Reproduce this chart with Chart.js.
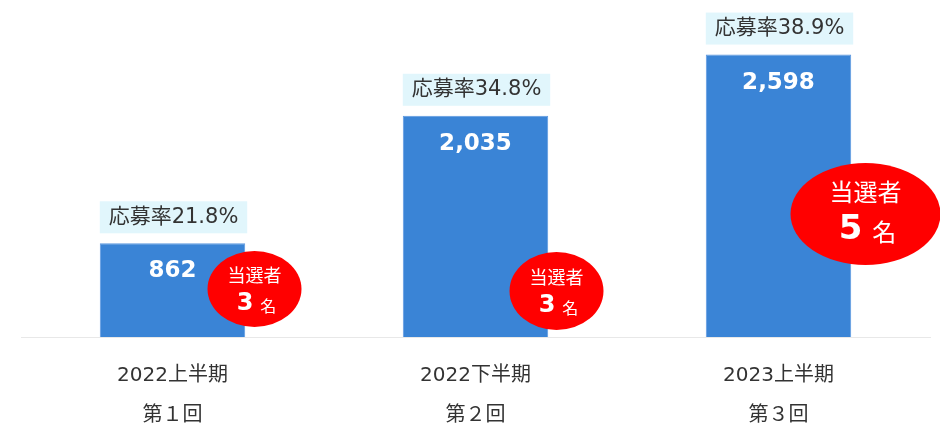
<!DOCTYPE html>
<html>
<head>
	<meta charset="utf-8">
	<script src="https://cdn.jsdelivr.net/npm/chart.js@4/dist/chart.umd.min.js"></script>
	<style>
	html, body { margin: 0; padding: 0; background: #fff; }
	#holder { width: 940px; height: 441px; }
	</style>
</head>
<body>
	<div id="holder"><canvas id="chart-area"></canvas></div>
	<script>

	var periods = [['2022上半期', '第１回'], ['2022下半期', '第２回'], ['2023上半期', '第３回']];
	var applicants = [862, 2035, 2598];
	var rates = [21.8, 34.8, 38.9];
	var winners = [3, 3, 5];

	var JP = '"DejaVu Sans", "Noto Sans CJK JP", sans-serif';

	// ellipse for each bar: offset from bar centre, centre y, radii, font sizes
	var bubbles = [
		{ dx: 82, cy: 289, rx: 47, ry: 38, title: 18, num: 24, unit: 16, ty: -14, ny: 15, gap: 7 },
		{ dx: 81, cy: 291, rx: 47, ry: 39, title: 18, num: 24, unit: 16, ty: -14, ny: 15, gap: 7 },
		{ dx: 87, cy: 214, rx: 75, ry: 51, title: 24, num: 34, unit: 24, ty: -22, ny: 16, gap: 10 }
	];

	var labelsPlugin = {
		id: 'labels',
		afterDatasetsDraw: function(chart) {
			var ctx = chart.ctx;
			var meta = chart.getDatasetMeta(0);
			meta.data.forEach(function(bar, i) {
				var left = bar.x - bar.width / 2;
				ctx.save();
				ctx.textAlign = 'center';
				ctx.textBaseline = 'middle';
				// rate box
				ctx.fillStyle = '#E1F6FC';
				ctx.fillRect(left, bar.y - 42, bar.width + 2, 32);
				ctx.fillStyle = '#333';
				ctx.font = '21px ' + JP;
				ctx.fillText('応募率' + rates[i].toFixed(1) + '%', left + (bar.width + 2) / 2, bar.y - 26);
				// value
				ctx.fillStyle = '#fff';
				ctx.font = 'bold 23px "DejaVu Sans", sans-serif';
				ctx.fillText(applicants[i].toLocaleString('en-US'), bar.x, bar.y + 28);
				// winners ellipse
				var b = bubbles[i];
				var cx = bar.x + b.dx;
				ctx.fillStyle = '#FF0000';
				ctx.beginPath();
				ctx.ellipse(cx, b.cy, b.rx, b.ry, 0, 0, Math.PI * 2);
				ctx.fill();
				ctx.fillStyle = '#fff';
				ctx.font = b.title + 'px "Noto Sans CJK JP", sans-serif';
				ctx.fillText('当選者', cx, b.cy + b.ty);
				var num = String(winners[i]);
				ctx.font = 'bold ' + b.num + 'px "DejaVu Sans", sans-serif';
				var w1 = ctx.measureText(num).width;
				ctx.font = b.unit + 'px "Noto Sans CJK JP", sans-serif';
				var w2 = ctx.measureText('名').width;
				var x0 = cx - (w1 + b.gap + w2) / 2 + 2;
				ctx.textAlign = 'left';
				ctx.font = 'bold ' + b.num + 'px "DejaVu Sans", sans-serif';
				ctx.fillText(num, x0, b.cy + b.ny);
				ctx.font = b.unit + 'px "Noto Sans CJK JP", sans-serif';
				ctx.fillText('名', x0 + w1 + b.gap, b.cy + b.ny + 2);
				ctx.restore();
			});
		}
	};

	var config = {
		type: 'bar',
		data: {
			labels: periods,
			datasets: [{
				data: applicants,
				backgroundColor: 'rgb(58, 132, 214)',
				borderColor: 'rgb(92, 152, 224)',
				borderWidth: 1,
				categoryPercentage: 1,
				barPercentage: 0.48
			}]
		},
		options: {
			responsive: false,
			animation: false,
			maintainAspectRatio: false,
			layout: { padding: { left: 21, right: 10, top: 0, bottom: 0 } },
			plugins: { legend: { display: false }, tooltip: { enabled: false } },
			scales: {
				x: {
					grid: { display: false },
					border: { display: true, color: '#E8E8E8', width: 1 },
					ticks: {
						color: '#333',
						padding: 11,
						font: { family: JP, size: 20, lineHeight: 2.0 }
					},
					afterFit: function(scale) { scale.height = 104; }
				},
				y: {
					display: false,
					min: 0,
					max: 3100
				}
			}
		},
		plugins: [labelsPlugin]
	};

	window.onload = function() {
		var cv = document.getElementById('chart-area');
		cv.width = 940;
		cv.height = 441;
		new Chart(cv.getContext('2d'), config);
	};
	</script>
</body>
</html>
